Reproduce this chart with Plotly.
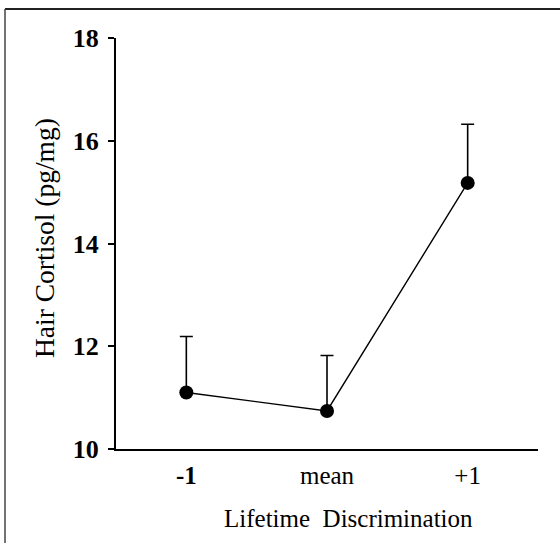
import plotly.graph_objects as go

categories = ["<b>-1</b>", "mean", "+1"]
cortisol = [11.10, 10.74, 15.18]
err_plus = [1.09, 1.08, 1.14]
y_ticks = [10, 12, 14, 16, 18]

W, H = 560, 543
L, R, T, B = 116, 22, 38, 94
pw, ph = W - L - R, H - T - B

def px_x(x):
    return (x - L) / pw

def px_y(y):
    return (H - B - y) / ph

serif = "Liberation Serif"

fig = go.Figure()
fig.add_trace(go.Scatter(
    x=[0, 1, 2], y=cortisol, mode="lines+markers",
    line=dict(color="black", width=1.4),
    marker=dict(color="black", size=14),
    error_y=dict(type="data", symmetric=False, array=err_plus,
                 arrayminus=[0, 0, 0], color="black", thickness=1.6, width=6.5),
    showlegend=False,
))

fig.update_layout(
    width=W, height=H,
    margin=dict(l=L, r=R, t=T, b=B),
    paper_bgcolor="white", plot_bgcolor="white",
    font=dict(family=serif, color="black"),
    xaxis=dict(
        range=[-0.5, 2.5], tickmode="array", tickvals=[0, 1, 2], ticktext=categories,
        showline=True, linecolor="black", linewidth=2, ticks="", showgrid=False,
        zeroline=False, tickfont=dict(family=serif, size=25, color="black"),
        ticklabelstandoff=3,
    ),
    yaxis=dict(
        range=[10, 18], tickmode="array", tickvals=y_ticks,
        showline=True, linecolor="black", linewidth=2, ticks="outside", ticklen=6,
        tickwidth=1.5, tickcolor="black", showgrid=False, zeroline=False,
        tickfont=dict(family=serif, size=26, color="black", weight="bold"),
        ticklabelstandoff=4,
    ),
    annotations=[
        dict(text="Lifetime  Discrimination", xref="paper", yref="paper",
             x=px_x(348), y=px_y(518), showarrow=False, xanchor="center", yanchor="middle",
             font=dict(family=serif, size=25, color="black")),
        dict(text="Hair Cortisol (pg/mg)", xref="paper", yref="paper",
             x=px_x(45), y=px_y(238), showarrow=False, textangle=-90,
             xanchor="center", yanchor="middle",
             font=dict(family=serif, size=27.5, color="black")),
    ],
    shapes=[
        dict(type="line", xref="paper", yref="paper", x0=px_x(5), x1=px_x(562),
             y0=px_y(9), y1=px_y(9), line=dict(color="#222", width=2)),
        dict(type="line", xref="paper", yref="paper", x0=px_x(5), x1=px_x(5),
             y0=px_y(9), y1=px_y(545), line=dict(color="#444", width=1.5)),
    ],
)

fig.write_html("out.html", config={"displayModeBar": False},
               post_script="document.body.style.margin='0';document.body.style.overflow='hidden';")
